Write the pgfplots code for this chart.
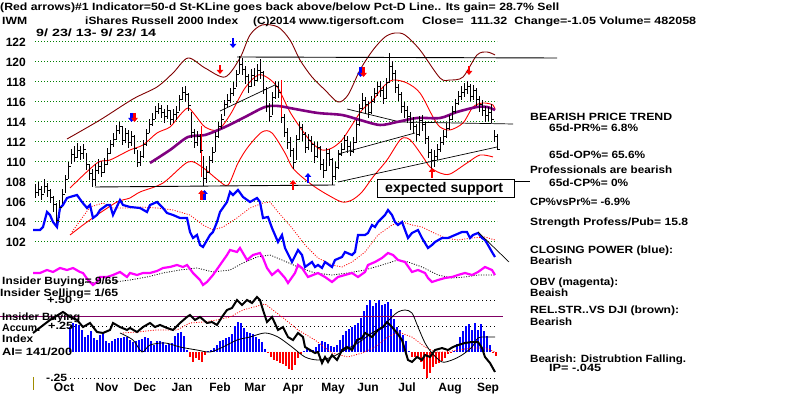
\documentclass[border=0pt]{standalone}
\usepackage{fontspec}
\setmainfont{Liberation Sans}
\usepackage{graphicx}
\usepackage{pgfplots}
\pgfplotsset{compat=1.18}
\usepackage{pgfplotstable}
\usetikzlibrary{arrows.meta}

\definecolor{cpblue}{RGB}{0,0,255}
\definecolor{obvmag}{RGB}{255,0,255}
\definecolor{mapurple}{RGB}{128,0,128}
\definecolor{maroonc}{RGB}{128,0,0}
\definecolor{gridgreen}{RGB}{0,128,0}
\definecolor{insider}{RGB}{128,0,100}
\definecolor{olivec}{RGB}{160,140,0}

\newcommand\T[5][10.5]{\node[anchor=base west, inner sep=0pt, font=\fontsize{#1}{#1}\selectfont\bfseries] at (#2,395-#3) {\resizebox{#4pt}{\height}{#5}};}

% price bars: x position (chart position), high, low, close
\pgfplotstableread{
x hi lo cl
35 107.8 106.4 107.0
38 108.0 106.6 107.3
41 107.6 106.2 106.8
44 108.3 106.9 107.6
47 107.9 106.5 107.2
50 107.3 105.9 106.5
53 106.6 105.0 105.8
56 105.9 103.6 104.2
59 106.2 104.4 105.5
62 107.3 105.6 106.8
65 108.7 106.9 108.3
68 110.0 108.3 109.6
71 111.3 109.8 110.8
74 111.6 110.0 110.5
77 111.9 110.4 111.2
80 111.6 110.2 110.9
83 111.8 110.3 111.3
86 110.9 109.2 109.8
89 109.8 108.2 108.9
92 109.3 107.5 108.3
95 109.8 107.6 109.2
98 110.3 108.8 109.6
101 110.1 108.5 109.0
104 110.4 108.9 109.8
107 111.4 109.7 110.9
110 112.2 110.8 111.8
113 112.9 111.5 112.3
116 113.7 112.2 113.2
119 114.0 112.8 113.6
122 113.6 111.7 112.2
125 113.4 111.9 112.9
128 113.2 111.4 112.0
131 113.1 111.6 112.6
134 112.7 110.8 111.4
137 111.2 109.5 110.0
140 111.1 109.6 110.6
143 112.2 110.4 111.8
146 113.3 111.6 112.9
149 114.3 112.9 113.8
152 114.9 113.6 114.3
155 115.6 114.3 115.1
158 115.9 114.8 115.4
161 115.7 114.4 115.0
164 115.3 113.9 114.6
167 115.7 114.3 115.2
170 115.2 113.7 114.3
173 115.3 113.9 114.8
176 115.6 114.2 115.0
179 116.7 115.1 116.3
182 117.5 116.2 117.0
185 117.6 116.0 116.8
188 116.9 115.1 115.7
191 115.0 112.4 113.0
194 113.3 111.4 112.0
197 113.1 111.6 112.6
200 112.8 110.9 111.2
203 110.6 107.6 108.4
206 109.6 107.9 109.0
209 110.6 108.9 110.2
212 111.5 109.9 111.0
215 113.0 111.0 112.6
218 114.0 112.4 113.6
221 114.8 113.3 114.3
224 116.2 114.6 115.8
227 116.8 115.4 116.2
230 117.4 115.9 116.9
233 118.0 116.6 117.4
236 119.2 117.5 118.8
239 120.6 118.8 119.8
242 120.4 118.7 119.3
245 119.6 117.8 118.6
248 118.8 116.9 117.6
251 119.3 117.5 118.7
254 119.4 117.6 118.2
257 119.8 118.1 119.2
260 120.3 118.3 119.0
263 119.1 116.8 117.3
266 117.5 115.0 115.6
269 115.9 114.0 114.6
272 117.0 114.7 116.5
275 118.1 116.3 117.6
278 118.0 116.4 117.0
281 117.1 113.9 114.5
284 114.8 112.5 113.0
287 113.4 111.3 112.0
290 112.5 110.5 111.2
293 111.4 109.3 110.0
296 112.7 110.2 112.3
299 114.0 112.2 113.5
302 113.8 112.1 112.8
305 113.0 110.9 111.5
308 112.8 111.2 112.2
311 112.6 111.0 111.8
314 112.0 109.9 110.6
317 112.0 110.4 111.5
320 111.6 109.2 109.8
323 110.3 108.4 109.2
326 111.4 109.1 110.9
329 111.3 109.6 110.3
332 110.4 107.7 108.6
335 110.0 108.2 109.5
338 111.2 109.3 110.8
341 111.9 110.6 111.3
344 112.7 111.2 112.2
347 112.6 110.9 111.6
350 112.0 110.6 111.1
353 112.5 110.9 112.0
356 114.2 111.9 113.8
359 115.8 113.6 115.4
362 116.9 115.2 116.2
365 116.5 114.9 115.8
368 116.1 114.4 115.0
371 116.6 114.8 116.1
374 117.4 115.9 116.9
377 118.0 116.6 117.6
380 118.1 116.5 117.2
383 117.6 115.8 116.4
386 118.4 116.3 118.0
389 120.9 117.9 119.6
392 120.1 118.2 118.9
395 119.2 116.9 117.5
398 117.8 116.1 116.8
401 117.0 114.9 115.6
404 116.0 114.4 115.2
407 115.6 113.9 114.6
410 115.0 113.2 114.0
413 114.5 112.9 113.6
416 113.8 112.1 112.8
419 114.6 112.6 114.2
422 114.7 113.1 113.8
425 114.0 111.8 112.4
428 112.6 110.4 111.0
431 111.3 109.3 110.2
434 111.2 109.5 110.6
437 111.8 110.2 111.3
440 112.5 111.0 112.0
443 113.2 111.7 112.6
446 113.9 112.4 113.4
449 114.7 113.2 114.3
452 115.6 114.2 115.1
455 116.3 114.9 115.9
458 117.1 115.7 116.6
461 117.6 116.2 117.0
464 117.9 116.5 117.3
467 118.1 116.8 117.6
470 117.8 116.1 116.6
473 117.7 116.2 117.2
476 117.4 115.6 116.3
479 116.6 115.0 115.8
482 116.2 114.6 115.2
485 115.6 114.0 114.7
488 115.5 114.1 115.0
491 115.8 113.9 114.3
494 113.2 112.0 112.6
497 112.8 111.2 111.3
}\pricebars

% accumulation index histogram
\pgfplotstableread{
x v
70 0.240
73 0.279
76 0.269
79 0.260
82 0.212
85 0.144
88 0.163
91 0.202
94 0.135
97 0.115
100 0.163
103 0.183
106 0.106
109 0.087
112 0.106
115 0.125
118 0.135
121 0.135
124 0.144
127 0.144
130 0.115
133 0.096
136 0.106
139 0.115
142 0.125
145 0.144
148 0.135
151 0.106
154 0.067
157 0.106
160 0.106
163 0.096
166 0.067
169 0.077
172 0.087
175 0.154
178 0.183
181 0.192
184 0.154
187 0.019
190 -0.048
193 -0.096
196 -0.058
199 -0.077
202 -0.096
205 -0.029
208 0.005
211 0.019
214 0.038
217 0.067
220 0.106
223 0.115
226 0.135
229 0.144
232 0.173
235 0.250
238 0.288
241 0.279
244 0.231
247 0.192
250 0.183
253 0.173
256 0.144
259 0.125
262 0.096
265 0.029
268 -0.010
271 -0.048
274 -0.077
277 -0.087
280 -0.106
283 -0.115
286 -0.135
289 -0.163
292 -0.173
295 -0.125
298 -0.058
301 -0.019
304 0.005
307 0.029
310 0.029
313 0.019
316 0.048
319 0.077
322 0.106
325 0.096
328 0.077
331 0.058
334 0.048
337 0.067
340 0.115
343 0.163
346 0.202
349 0.221
352 0.240
355 0.260
358 0.279
361 0.327
364 0.394
367 0.452
370 0.500
373 0.442
376 0.471
379 0.500
382 0.452
385 0.462
388 0.481
391 0.413
394 0.317
397 0.240
400 0.212
403 0.163
406 0.106
409 0.010
412 -0.048
415 -0.048
418 -0.058
421 -0.096
424 -0.163
427 -0.250
430 -0.202
433 -0.144
436 -0.115
439 -0.106
442 -0.087
445 -0.058
448 -0.019
451 -0.010
454 0.010
457 0.077
460 0.144
463 0.202
466 0.250
469 0.269
472 0.212
475 0.279
478 0.212
481 0.269
484 0.202
487 0.154
490 0.067
493 -0.010
496 -0.038
}\aitable

% signal arrows: x, start, length
\pgfplotstableread{
x y v
233 122.4 -1.0
131.5 114.9 -0.9
360.5 119.5 -1.0
308 107.9 1.0
204.5 106.2 1.0
}\bluearrows
\pgfplotstableread{
x y v
220 119.7 -0.9
134.5 114.9 -0.9
363.5 119.5 -1.0
469 119.6 -0.9
201.5 106.2 1.0
293 107.2 1.0
432 108.4 1.0
}\redarrows

\begin{document}
\begin{tikzpicture}[x=1pt,y=1pt]
\useasboundingbox (0,0) rectangle (800,395);
\fill[white] (0,0) rectangle (800,395);

% ---------------- price panel ----------------
\begin{axis}[at={(35pt,83pt)}, anchor=south west, scale only axis,
  width=462pt, height=290pt, xmin=35, xmax=497, ymin=95, ymax=124,
  clip=false, axis line style={draw=none}, xtick=\empty,
  ytick={102,104,...,122}, major tick length=0pt,
  ymajorgrids, grid style={gridgreen, line width=1pt, dash pattern=on 1pt off 2pt},
  yticklabel style={font=\fontsize{12}{12}\selectfont\bfseries, inner sep=0pt, xshift=-9pt},
  /pgf/number format/assume math mode=true]

% bands
\addplot[maroonc, line width=0.9pt, smooth] coordinates {(67,112.3) (100,114.2) (133,116.3) (157,117.5) (173,118.9) (188,120.4) (205,119.4) (225,118.5) (240,120.4) (250,122.7) (262,123.7) (278,123.5) (290,122.2) (300,120.2) (312,118.5) (325,117.2) (338,116.0) (348,116.7) (360,119.2) (373,121.2) (385,122.5) (395,122.9) (405,122.7) (420,121.2) (440,118.4) (450,118.2) (463,118.5) (477,120.7) (487,121.0) (495,120.7)};
\addplot[red, line width=0.9pt, smooth] coordinates {(70,107.4) (97,109.9) (110,110.2) (130,111.2) (143,111.7) (157,112.9) (170,113.5) (180,114.7) (188,115.4) (195,114.7) (205,113.5) (218,113.2) (230,114.7) (245,117.4) (258,118.7) (268,118.4) (278,117.4) (290,115.0) (302,113.2) (312,111.9) (322,111.2) (332,111.4) (342,112.2) (352,113.7) (362,115.2) (373,116.2) (383,117.5) (393,118.2) (407,117.9) (420,116.9) (433,114.5) (440,113.5) (450,113.2) (463,113.9) (473,115.5) (483,115.9) (493,115.7) (495,115.2)};
\addplot[red, line width=0.9pt, smooth] coordinates {(70,102.7) (83,103.7) (97,104.7) (117,106.0) (130,106.4) (140,107.0) (163,107.9) (188,110.0) (202,109.5) (218,108.2) (228,107.7) (238,109.9) (248,111.5) (262,113.0) (272,112.9) (285,110.9) (292,109.5) (302,108.5) (315,107.5) (328,106.7) (342,106.0) (352,106.2) (362,107.0) (373,108.5) (387,110.2) (400,112.2) (407,112.4) (413,111.9) (423,110.5) (430,109.5) (440,108.9) (450,108.8) (467,109.9) (480,110.7) (493,110.5)};

% trend lines
\addplot[black, line width=0.9pt] coordinates {(237,120.5) (557,120.4)};
\addplot[black, line width=0.9pt] coordinates {(95,107.5) (335,107.7)};
\addplot[black, line width=0.7pt] coordinates {(220,115.1) (275,117.7)};
\addplot[black, line width=0.7pt] coordinates {(347,115.3) (400,114.0) (513,113.8)};
\addplot[black, line width=0.7pt] coordinates {(338,110.8) (415,112.9)};
\addplot[black, line width=0.7pt] coordinates {(338,108.0) (497,111.5)};

% 50-day moving average
\addplot[mapurple, line width=2.6pt, smooth] coordinates {(150,109.9) (170,111.2) (188,112.5) (205,112.7) (225,113.5) (245,114.5) (265,115.5) (278,115.6) (295,115.3) (318,114.9) (342,114.7) (360,114.2) (380,113.7) (397,114.0) (417,114.4) (440,114.4) (457,115.0) (477,115.5) (487,115.5) (495,115.2)};

% price bars (high-low with close tick)
\addplot[black, only marks, mark=-, mark size=1.4pt, mark options={xshift=1.3pt, line width=0.9pt},
  error bars/.cd, y dir=both, y explicit, error mark=none,
  error bar style={black, line width=1pt}]
  table[x=x, y=cl, y error plus expr=\thisrow{hi}-\thisrow{cl}, y error minus expr=\thisrow{cl}-\thisrow{lo}] {\pricebars};
\addplot[red, line width=1pt] coordinates {(201,113.6) (201,108.5)};
\addplot[red, line width=1pt] coordinates {(281,118.2) (281,114.5)};

% closing power (blue) and its average
\addplot[red, line width=0.8pt, dash pattern=on 1pt off 1.5pt] coordinates {(72,103.0) (90,105.5) (103,105.9) (113,105.4) (130,105.4) (140,105.5) (157,105.4) (173,105.2) (190,104.7) (203,103.7) (213,103.2) (223,103.5) (237,104.4) (250,105.4) (263,105.9) (270,106.0) (278,105.0) (292,103.4) (305,101.7) (318,100.4) (332,99.7) (342,99.5) (352,100.0) (365,101.0) (378,102.7) (392,103.7) (402,104.0) (412,103.7) (422,103.5) (432,103.0) (445,102.4) (458,102.2) (472,102.4) (485,102.5) (495,102.2)};
\addplot[cpblue, line width=2.2pt] coordinates {(33,103.2) (40,103.2) (43,103.5) (47,105.0) (50,104.7) (53,104.0) (57,103.5) (60,105.4) (63,105.7) (67,106.4) (70,106.5) (77,106.7) (82,106.0) (87,105.4) (90,105.7) (93,104.4) (97,104.7) (100,105.2) (107,105.7) (110,105.7) (113,104.7) (120,106.2) (123,105.7) (130,105.5) (140,105.4) (147,105.0) (150,105.7) (157,106.0) (163,105.4) (167,104.9) (173,104.7) (180,104.4) (187,104.4) (190,103.0) (193,102.4) (197,102.7) (200,101.7) (203,101.5) (210,102.7) (213,103.0) (217,104.0) (220,105.0) (227,106.0) (230,107.0) (233,106.7) (238,107.2) (243,106.5) (250,106.0) (257,106.4) (260,106.0) (263,104.4) (268,104.5) (272,103.4) (278,102.0) (282,102.7) (285,101.4) (292,100.0) (298,101.2) (302,100.7) (305,99.5) (312,100.0) (315,99.5) (318,99.7) (322,99.4) (325,100.0) (332,99.5) (335,100.2) (342,100.5) (345,101.0) (352,100.7) (355,101.0) (358,102.7) (365,102.7) (368,102.9) (372,103.7) (375,103.5) (378,104.0) (382,104.4) (385,104.7) (388,105.2) (392,104.7) (395,104.0) (398,103.7) (402,104.0) (405,103.2) (408,102.4) (412,102.9) (418,103.2) (422,102.4) (428,101.4) (432,101.7) (435,102.0) (442,102.4) (448,102.4) (455,102.7) (462,103.0) (467,103.0) (470,102.4) (473,102.7) (478,102.9) (482,102.4) (485,102.2) (488,101.7) (492,101.0) (495,100.5)};
\addplot[black, line width=0.7pt] coordinates {(478,103.0) (509,100.0)};

% OBV (magenta) and its average
\addplot[black, line width=0.8pt, dash pattern=on 1pt off 1.5pt] coordinates {(80,98.0) (107,97.9) (130,98.2) (147,98.5) (163,98.9) (180,99.2) (197,99.4) (213,99.0) (230,99.2) (243,99.9) (257,100.5) (270,100.7) (282,100.2) (298,99.5) (315,98.9) (332,98.7) (348,98.9) (365,99.2) (382,99.7) (398,100.2) (408,100.0) (422,99.5) (438,98.7) (452,98.4) (465,98.5) (478,98.7) (495,98.7)};
\addplot[obvmag, line width=2.2pt] coordinates {(33,98.9) (40,98.9) (47,99.2) (53,99.0) (60,99.4) (67,99.2) (73,99.4) (80,99.0) (83,98.9) (88,98.2) (93,97.7) (97,98.0) (100,98.5) (107,98.5) (113,98.7) (120,99.0) (127,98.5) (130,98.9) (137,98.7) (143,98.9) (150,98.9) (157,99.1) (163,99.4) (170,99.5) (177,99.7) (183,99.5) (187,99.7) (193,98.9) (200,98.2) (203,97.7) (207,98.0) (213,98.7) (220,99.7) (227,100.7) (230,101.2) (237,101.0) (240,101.4) (247,100.2) (253,100.7) (260,100.9) (263,100.4) (267,99.4) (272,98.7) (278,99.2) (285,98.4) (288,97.9) (295,98.9) (298,99.7) (302,99.4) (308,98.5) (318,98.9) (325,98.5) (332,98.0) (338,98.5) (345,98.7) (352,98.9) (358,98.5) (365,99.0) (368,99.7) (375,100.0) (382,100.4) (388,100.9) (393,100.7) (398,100.2) (405,100.0) (412,99.0) (418,99.2) (425,98.9) (428,98.4) (432,98.0) (438,98.2) (445,98.4) (452,98.5) (458,98.7) (465,98.9) (472,98.7) (478,99.0) (485,99.5) (492,99.2) (495,98.7)};

% signal arrows
\addplot[cpblue, line width=2.4pt, -{Triangle[width=6.5pt,length=4pt]}, quiver={u=0, v=\thisrow{v}}] table[x=x, y=y] {\bluearrows};
\addplot[red, line width=2.4pt, -{Triangle[width=6.5pt,length=4pt]}, quiver={u=0, v=\thisrow{v}}] table[x=x, y=y] {\redarrows};
\end{axis}

% ---------------- accumulation index panel ----------------
\begin{axis}[at={(35pt,11.8pt)}, anchor=south west, scale only axis,
  width=462pt, height=88.4pt, xmin=35, xmax=497, ymin=-0.3, ymax=0.55,
  clip=false, axis line style={draw=none}, ytick=\empty,
  xtick={64,107,145,182,220,255,293,333,368,407,450,488},
  xticklabels={Oct,Nov,Dec,Jan,Feb,Mar,Apr,May,Jun,Jul,Aug,Sep},
  major tick length=0pt,
  xticklabel style={font=\fontsize{12}{12}\selectfont\bfseries, anchor=base, inner sep=0pt, yshift=-8.8pt}]
\addplot[black, line width=0.8pt, dash pattern=on 1pt off 3pt] coordinates {(70,0.5) (497,0.5)};
\addplot[black, line width=0.8pt, dash pattern=on 1pt off 3pt] coordinates {(70,0.25) (497,0.25)};
\addplot[black, line width=0.8pt, dash pattern=on 1pt off 3pt] coordinates {(70,-0.25) (497,-0.25)};
\addplot[ycomb, cpblue, line width=1.1pt, restrict y to domain=0:1] table[x=x, y=v] {\aitable};
\addplot[ycomb, red, line width=1.1pt, restrict y to domain=-1:0] table[x=x, y=v] {\aitable};
\addplot[insider, line width=1pt] coordinates {(0,0.346) (503,0.346)};
\addplot[red, line width=0.8pt, dash pattern=on 1pt off 1.5pt] coordinates {(123,0.183) (137,0.192) (157,0.212) (177,0.212) (190,0.279) (203,0.288) (217,0.308) (230,0.337) (243,0.404) (265,0.462) (282,0.337) (298,0.212) (315,0.115) (332,-0.010) (348,-0.048) (362,-0.010) (375,0.048) (388,0.144) (398,0.192) (412,0.144) (425,0.048) (435,0.000) (445,0.000) (458,0.019) (472,0.038) (485,0.038) (495,0.000)};
\addplot[black, line width=0.8pt, smooth] coordinates {(120,0.183) (133,0.115) (142,0.000) (150,0.067) (165,0.087) (180,0.048) (197,0.019) (210,0.000) (223,0.048) (237,0.115) (250,0.144) (265,0.183) (278,0.144) (292,0.048) (305,-0.048) (318,-0.077) (332,-0.048) (345,0.019) (358,0.087) (372,0.183) (382,0.240) (392,0.337) (398,0.385) (405,0.404) (412,0.375) (418,0.240) (425,0.087) (432,-0.010) (442,-0.096) (452,-0.077) (462,-0.029) (472,0.048) (478,0.135) (485,0.144) (495,0.144)};
\addplot[black, line width=2pt] coordinates {(33,0.183) (50,0.308) (63,0.385) (70,0.337) (77,0.308) (83,0.240) (90,0.279) (97,0.192) (103,0.183) (110,0.212) (113,0.279) (120,0.240) (127,0.212) (130,0.231) (137,0.192) (143,0.240) (150,0.279) (155,0.240) (160,0.260) (167,0.231) (173,0.212) (180,0.279) (187,0.337) (190,0.356) (195,0.308) (200,0.337) (207,0.279) (212,0.288) (217,0.260) (222,0.337) (227,0.404) (232,0.423) (237,0.500) (242,0.452) (247,0.500) (252,0.471) (257,0.529) (260,0.500) (263,0.404) (267,0.288) (272,0.337) (278,0.212) (283,0.240) (288,0.144) (293,0.115) (298,0.183) (303,0.144) (305,0.048) (310,0.019) (315,-0.010) (318,0.000) (322,-0.106) (325,-0.048) (328,-0.096) (332,-0.029) (337,-0.077) (342,0.019) (347,0.048) (352,0.019) (357,0.115) (362,0.135) (365,0.183) (372,0.144) (378,0.212) (383,0.240) (387,0.288) (392,0.240) (397,0.183) (402,0.115) (405,0.019) (408,-0.077) (412,-0.096) (417,-0.048) (422,-0.077) (425,-0.029) (430,-0.048) (435,0.019) (442,0.038) (448,0.019) (453,0.048) (458,0.067) (465,0.087) (472,0.096) (478,0.096) (482,0.038) (485,-0.048) (490,-0.106) (495,-0.192)};
\addplot[olivec, line width=1pt] coordinates {(33,-0.24) (33,-0.365)};
\end{axis}

% ---------------- texts ----------------
\T{0}{10.5}{559}{(Red arrows)\#1 Indicator=50-d St-KLine goes back above/below Pct-D Line.. Its gain= 28.7\% Sell}
\T{2}{25}{25}{IWM}
\T{85}{25}{153}{iShares Russell 2000 Index}
\T{253}{25}{151}{(C)2014 www.tigersoft.com}
\T{422}{25}{274}{Close=\ \ 111.32\ \ Change=-1.05 Volume= 482058}
\T{36}{37}{120}{9/ 23/ 13- 9/ 23/ 14}

\draw[black, line width=1pt, fill=white] (377,395-180) rectangle (514,395-198);
\draw[black, line width=1pt] (514,395-182) -- (530,395-182);
\T[14]{385}{193}{118}{expected support}

\T{530}{121}{142}{BEARISH PRICE TREND}
\T{549}{131.5}{89}{65d-PR\%= 6.8\%}
\T{549}{159}{96}{65d-OP\%= 65.6\%}
\T{530}{174}{142}{Professionals are bearish}
\T{549}{186.5}{79}{65d-CP\%= 0\%}
\T{530}{206}{100}{CP\%vsPr\%= -6.9\%}
\T{530}{226}{158}{Strength Profess/Pub= 15.8}
\T{530}{253.5}{143}{CLOSING POWER (blue):}
\T{530}{264.5}{42}{Bearish}
\T{530}{285.5}{88}{OBV (magenta):}
\T{530}{297}{38}{Beaish}
\T{530}{313.5}{149}{REL.STR..VS DJI (brown):}
\T{530}{325.5}{42}{Bearish}
\T{530}{363}{156}{Bearish: Distrubtion Falling.}
\T{549}{372}{52}{IP= -.045}

\T{2}{285}{116}{Insider Buying= 9/65}
\T{0}{297}{118}{Insider Selling= 1/65}
\T{47}{304}{25}{+.50}
\T{2}{321}{78}{Insider Buying}
\T{2}{332}{38}{Accum.}
\T{48}{330}{25}{+.25}
\T{2}{343}{31}{Index}
\T{2}{355.5}{70}{AI= 141/200}
\T{46}{382}{21}{-.25}
\end{tikzpicture}
\end{document}
